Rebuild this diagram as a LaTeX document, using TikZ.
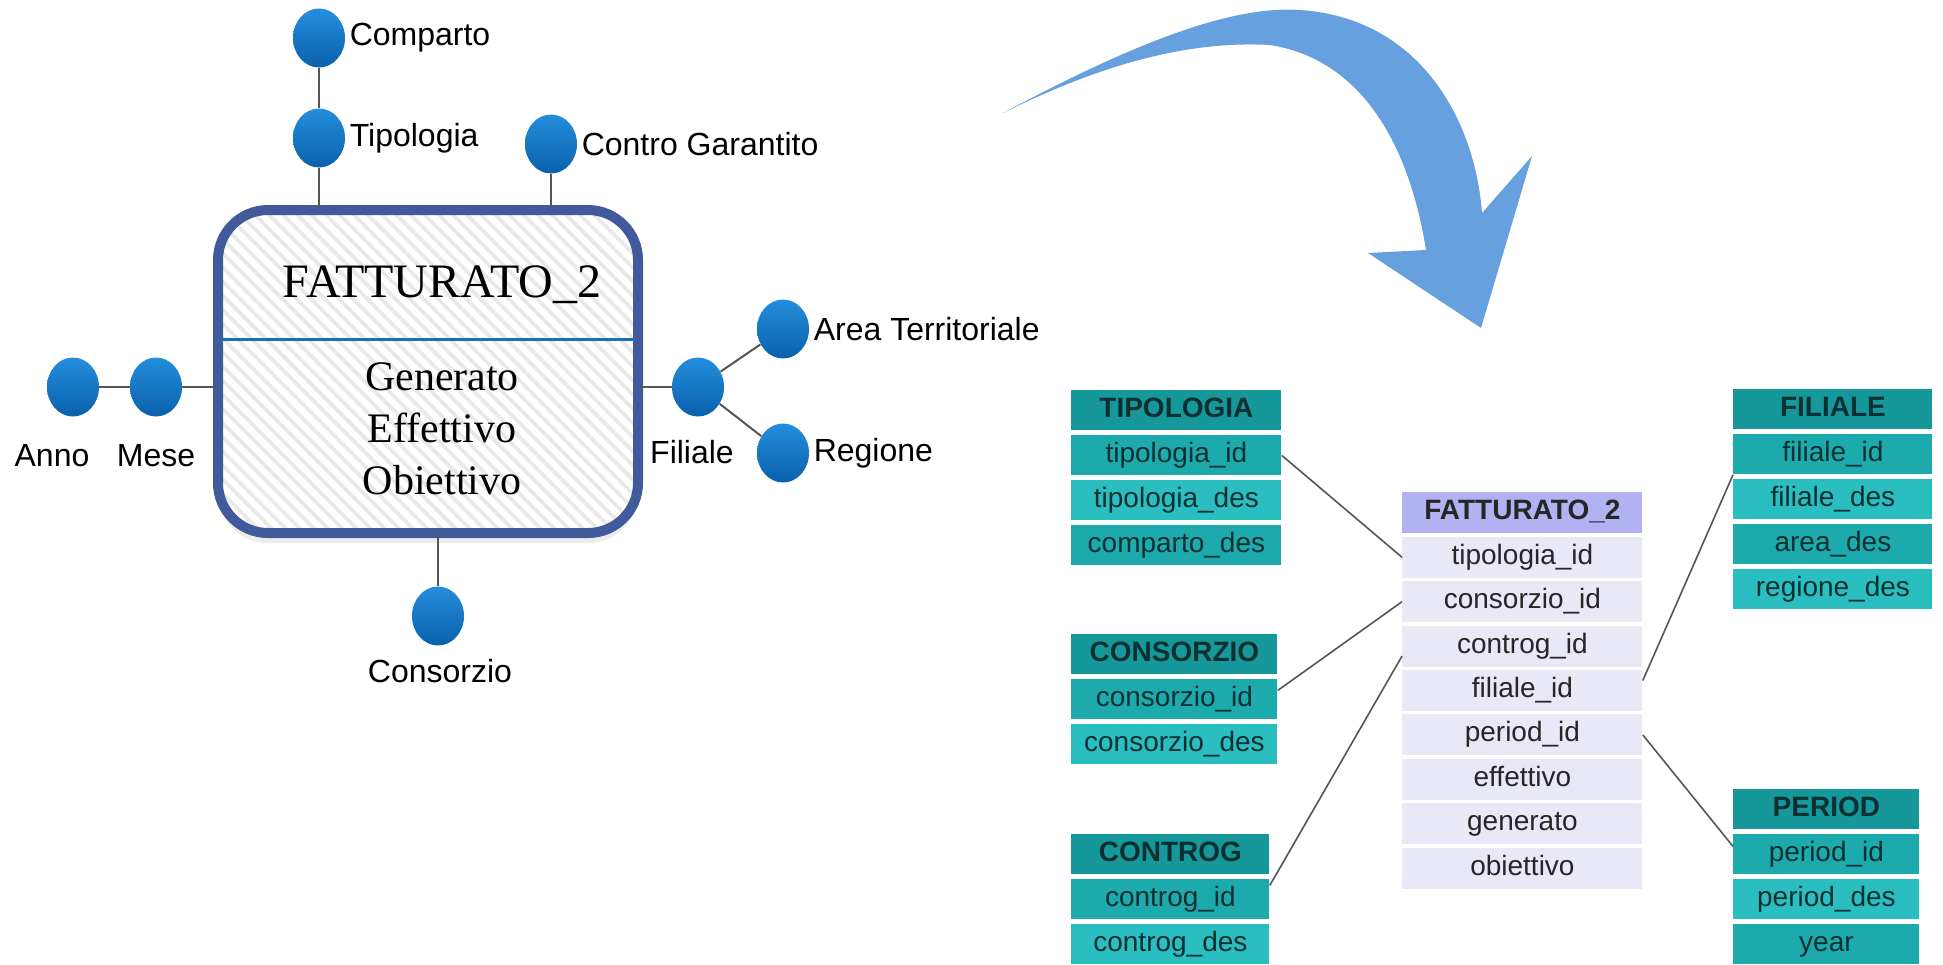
\documentclass[tikz,border=0pt]{standalone}
\usepackage{fontspec}
\setmainfont{Liberation Sans}
\newfontfamily\timesfont{Liberation Serif}
\usepackage{tikz}
\usetikzlibrary{matrix}
\usetikzlibrary{shapes.geometric}
\usetikzlibrary{patterns.meta}
\usetikzlibrary{shadows}
\usetikzlibrary{positioning}

\definecolor{balltop}{RGB}{36,142,220}
\definecolor{ballbot}{RGB}{10,96,172}
\definecolor{boxline}{RGB}{64,90,155}
\definecolor{divline}{RGB}{30,110,184}
\definecolor{arrowblue}{RGB}{102,160,222}
\definecolor{tealhead}{RGB}{22,152,154}
\definecolor{tealdark}{RGB}{28,170,172}
\definecolor{teallight}{RGB}{42,190,192}
\definecolor{tealtext}{RGB}{12,48,50}
\definecolor{lilahead}{RGB}{178,178,242}
\definecolor{lilarow}{RGB}{232,232,247}
\definecolor{linkgray}{RGB}{85,85,85}

\begin{document}
\begin{tikzpicture}[x=0.5pt,y=-0.5pt,
			ball/.style={ellipse,minimum width=26pt,minimum height=29.5pt,inner sep=0pt,top color=balltop,bottom color=ballbot},
			lbl/.style={inner sep=1pt,font=\fontsize{16}{19}\selectfont},
			attrlink/.style={draw=linkgray,line width=1pt},
			rel/.style={draw=linkgray,line width=0.8pt},
			factbox/.style={rectangle,rounded corners=25pt,draw=boxline,line width=5pt,
				minimum width=210pt,minimum height=161.5pt,
				drop shadow={opacity=0.15,shadow xshift=0pt,shadow yshift=-5pt},
				preaction={fill=white},
				pattern={Lines[angle=-45,distance=5pt,line width=1.8pt]},pattern color=black!9},
			dimtab/.style={matrix of nodes,anchor=north west,inner sep=0pt,row sep=2.5pt,
				nodes={inner sep=0pt,text width=#1,minimum height=20pt,text height=10pt,text depth=3pt,
					align=center,text=tealtext,font=\fontsize{14}{16}\selectfont},
				every even row/.style={nodes={fill=tealdark}},
				every odd row/.style={nodes={fill=teallight}},
				row 1 column 1/.style={nodes={fill=tealhead,font=\fontsize{14}{16}\selectfont\bfseries}}},
			facttab/.style={matrix of nodes,anchor=north west,inner sep=0pt,row sep=1.7pt,
				nodes={inner sep=0pt,text width=120pt,minimum height=20.5pt,text height=10pt,text depth=3pt,
					align=center,fill=lilarow,text=black!85,font=\fontsize{14}{16}\selectfont},
				row 1 column 1/.style={nodes={fill=lilahead,font=\fontsize{14}{16}\selectfont\bfseries}}}
			]
			\useasboundingbox (0,0) rectangle (1943,964);
			
			% fact schema
			\node[factbox] (fact) at (428,371.5) {};
			\draw[divline,line width=1.5pt] ([xshift=2.5pt,yshift=16.25pt]fact.west) -- ([xshift=-2.5pt,yshift=16.25pt]fact.east);
			\node[anchor=base,inner sep=0pt,font=\timesfont\fontsize{24}{28}\selectfont] (ftitle) at (442,297) {FATTURATO\_2};
			\node[anchor=north,align=center,inner sep=0pt,font=\timesfont\fontsize{21}{26}\selectfont] (fmeas) at (442,362) {Generato\\Effettivo\\Obiettivo};
			
			\node[ball] (comp) at (319,38) {};
			\node[ball] (tipo) at (319,138) {};
			\node[ball] (contro) at (551,144) {};
			\node[ball] (anno) at (73,387) {};
			\node[ball] (mese) at (156,387) {};
			\node[ball] (cons) at (438,616) {};
			\node[ball] (fil) at (698,387) {};
			\node[ball] (area) at (783,329) {};
			\node[ball] (reg) at (783,453) {};
			
			\node[lbl,right=1pt of comp] (lcomp) {Comparto};
			\node[lbl,right=1pt of tipo] (ltipo) {Tipologia};
			\node[lbl,right=1pt of contro] (lcontro) {Contro Garantito};
			\node[lbl,right=1pt of area] (larea) {Area Territoriale};
			\node[lbl,right=1pt of reg] (lreg) {Regione};
			\node[lbl] (lanno) at (52,456) {Anno};
			\node[lbl] (lmese) at (156,456) {Mese};
			\node[lbl] (lcons) at (440,671) {Consorzio};
			\node[lbl] (lfil) at (692,452) {Filiale};
			
			\draw[attrlink] (comp) -- (tipo);
			\draw[attrlink] (tipo) -- (tipo |- fact.north);
			\draw[attrlink] (contro) -- (contro |- fact.north);
			\draw[attrlink] (anno) -- (mese);
			\draw[attrlink] (mese) -- (mese -| fact.west);
			\draw[attrlink] (cons) -- (cons |- fact.south);
			\draw[attrlink] (fil) -- (fil -| fact.east);
			\draw[attrlink] (fil) -- (area);
			\draw[attrlink] (fil) -- (reg);
			
			% big arrow
			\fill[arrowblue] (1003,113) .. controls (1130,45) and (1230,5) .. (1300,10)
				.. controls (1420,18) and (1475,120) .. (1482,213) -- (1532,156) -- (1481,328)
				-- (1368,253) -- (1426,250) .. controls (1410,150) and (1365,60) .. (1270,45)
				.. controls (1180,40) and (1090,70) .. (1003,113) -- cycle;
			
			% star schema
			\matrix (mtip) [dimtab=105pt] at (1071,390) {
				TIPOLOGIA \\
				tipologia\_id \\
				tipologia\_des \\
				comparto\_des \\
			};
			\matrix (mcons) [dimtab=103pt] at (1071,634) {
				CONSORZIO \\
				consorzio\_id \\
				consorzio\_des \\
			};
			\matrix (mctg) [dimtab=99pt] at (1071,834) {
				CONTROG \\
				controg\_id \\
				controg\_des \\
			};
			\matrix (mfil) [dimtab=99.5pt] at (1733,389) {
				FILIALE \\
				filiale\_id \\
				filiale\_des \\
				area\_des \\
				regione\_des \\
			};
			\matrix (mper) [dimtab=93pt] at (1733,789) {
				PERIOD \\
				period\_id \\
				period\_des \\
				year \\
			};
			\matrix (mfat) [facttab] at (1402,492) {
				FATTURATO\_2 \\
				tipologia\_id \\
				consorzio\_id \\
				controg\_id \\
				filiale\_id \\
				period\_id \\
				effettivo \\
				generato \\
				obiettivo \\
			};
			
			\draw[rel] (mtip-2-1.east) -- (mfat-2-1.west);
			\draw[rel] ([yshift=4.5pt]mcons-2-1.east) -- (mfat-3-1.west);
			\draw[rel] ([yshift=7pt]mctg-2-1.east) -- ([yshift=-5pt]mfat-4-1.west);
			\draw[rel] ([yshift=5pt]mfat-5-1.east) -- (mfil-2-1.south west);
			\draw[rel] (mfat-6-1.east) -- ([yshift=4pt]mper-2-1.west);
		\end{tikzpicture}
\end{document}
